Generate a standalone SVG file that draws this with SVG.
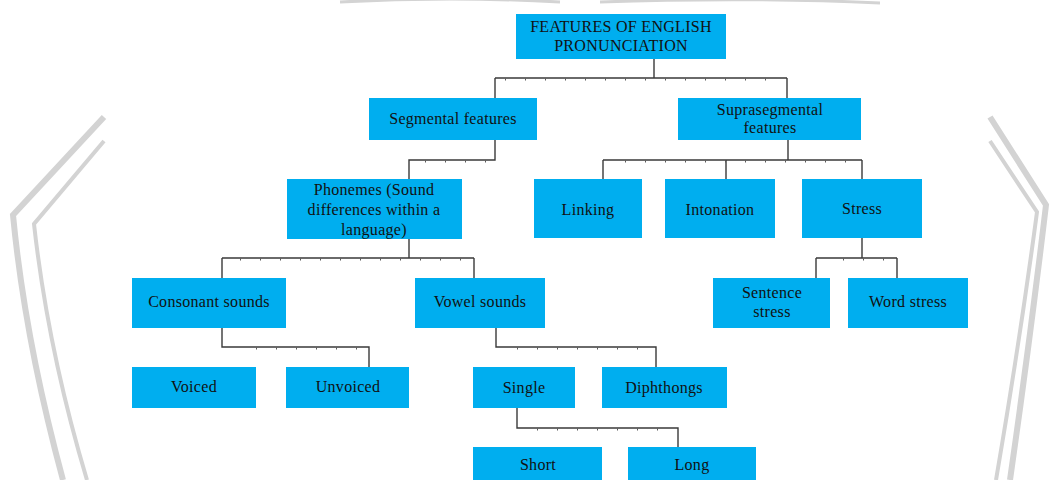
<svg xmlns="http://www.w3.org/2000/svg" width="1058" height="480" viewBox="0 0 1058 480">
<style>
.box{fill:#00AEEF;}
.t{font-family:"Liberation Serif","Times New Roman",serif;font-size:16px;fill:#111;text-anchor:middle;letter-spacing:0.3px;}
.c{fill:none;stroke:#3a3a3a;stroke-width:1.4;}
.tk{fill:none;stroke:#5a5a5a;stroke-width:2;stroke-dasharray:1 19;}
.wm{fill:none;stroke:#d3d3d3;stroke-linecap:butt;}
</style>
<rect width="1058" height="480" fill="#ffffff"/>
<g id="watermark">
<path class="wm" stroke-width="6" d="M104,117 L13,215 Q25,340 63,480"/>
<path class="wm" stroke-width="4" d="M104,141 L34,224 Q48,350 87,480"/>
<path class="wm" stroke-width="6" d="M990,117 L1046,205 Q1030,340 1010,480"/>
<path class="wm" stroke-width="4" d="M990,141 L1037,212 Q1020,340 996,480"/>
<path class="wm" stroke-width="3" d="M340,2 Q450,-4 560,2 M600,2 Q750,-3 880,3"/>
</g>
<g id="connectors">
<path class="c" d="M654,59 V78 M495,78 H787 M495,78 V98 M787,78 V98"/>
<path class="tk" d="M505,79.5 H780"/>
<path class="c" d="M495,140 V160 H409 V179"/>
<path class="tk" d="M425,161.5 H490"/>
<path class="c" d="M788,140 V160 M603,160 H862 M603,160 V179 M726,160 V179 M862,160 V179"/>
<path class="tk" d="M625,161.5 H855"/>
<path class="c" d="M409,239 V258 M222,258 H474 M222,258 V278 M474,258 V278"/>
<path class="tk" d="M240,259.5 H470"/>
<path class="c" d="M862,238 V258 M816,258 H897 M816,258 V278 M897,258 V278"/>
<path class="tk" d="M843,259.5 H890"/>
<path class="c" d="M222,328 V347 H369 V367"/>
<path class="tk" d="M256,348.5 H365"/>
<path class="c" d="M496,328 V347 H656 V367"/>
<path class="tk" d="M517,348.5 H650"/>
<path class="c" d="M517,408 V428 H678 V447"/>
<path class="tk" d="M537,429.5 H672"/>
</g>
<g id="root"><rect class="box" x="516" y="14" width="210" height="45"/>
<text class="t" x="621" y="32">FEATURES OF ENGLISH</text><text class="t" x="621" y="51">PRONUNCIATION</text></g>
<g id="segmental"><rect class="box" x="369" y="98" width="168" height="42"/>
<text class="t" x="453" y="124">Segmental features</text></g>
<g id="suprasegmental"><rect class="box" x="678" y="98" width="183" height="42"/>
<text class="t" x="770" y="115">Suprasegmental</text><text class="t" x="770" y="133">features</text></g>
<g id="phonemes"><rect class="box" x="287" y="179" width="175" height="60"/>
<text class="t" x="374" y="195">Phonemes (Sound</text><text class="t" x="374" y="215">differences within a</text><text class="t" x="374" y="235">language)</text></g>
<g id="linking"><rect class="box" x="534" y="179" width="108" height="59"/>
<text class="t" x="588" y="215">Linking</text></g>
<g id="intonation"><rect class="box" x="665" y="179" width="110" height="59"/>
<text class="t" x="720" y="215">Intonation</text></g>
<g id="stress"><rect class="box" x="802" y="179" width="120" height="59"/>
<text class="t" x="862" y="214">Stress</text></g>
<g id="consonant"><rect class="box" x="132" y="278" width="154" height="50"/>
<text class="t" x="209" y="307">Consonant sounds</text></g>
<g id="vowel"><rect class="box" x="415" y="278" width="130" height="50"/>
<text class="t" x="480" y="307">Vowel sounds</text></g>
<g id="sentence"><rect class="box" x="713" y="278" width="117" height="50"/>
<text class="t" x="772" y="298">Sentence</text><text class="t" x="772" y="317">stress</text></g>
<g id="word"><rect class="box" x="848" y="278" width="120" height="50"/>
<text class="t" x="908" y="307">Word stress</text></g>
<g id="voiced"><rect class="box" x="132" y="367" width="124" height="41"/>
<text class="t" x="194" y="392">Voiced</text></g>
<g id="unvoiced"><rect class="box" x="286" y="367" width="123" height="41"/>
<text class="t" x="348" y="392">Unvoiced</text></g>
<g id="single"><rect class="box" x="473" y="367" width="102" height="41"/>
<text class="t" x="524" y="393">Single</text></g>
<g id="diphthongs"><rect class="box" x="602" y="367" width="125" height="41"/>
<text class="t" x="664" y="393">Diphthongs</text></g>
<g id="short"><rect class="box" x="473" y="447" width="129" height="36"/>
<text class="t" x="538" y="470">Short</text></g>
<g id="long"><rect class="box" x="628" y="447" width="128" height="36"/>
<text class="t" x="692" y="470">Long</text></g>
</svg>
